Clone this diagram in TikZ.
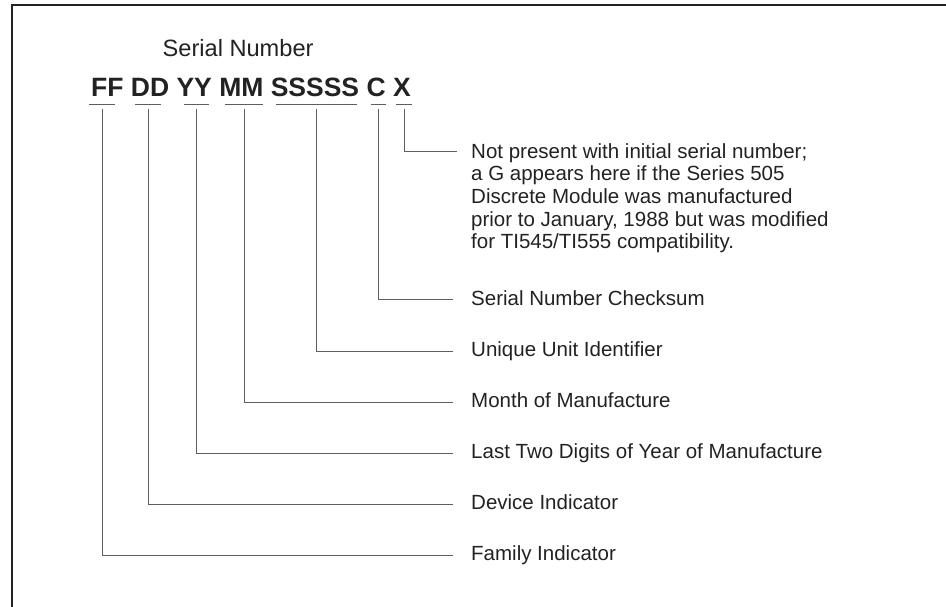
\documentclass[tikz,border=0pt]{standalone}
\usepackage{fontspec}
\setmainfont{Liberation Sans}
\definecolor{ink}{HTML}{222222}
\definecolor{wire}{HTML}{5E5E5E}
\begin{document}
\begin{tikzpicture}[x=1pt,y=-1pt,
  frame/.style={draw=ink,line width=2pt},
  conn/.style={draw=wire,line width=1pt},
  titletext/.style={inner sep=0pt,text=ink,font=\fontsize{23.6}{26}\selectfont},
  codetext/.style={inner sep=0pt,text=ink,font=\bfseries\fontsize{26.5}{30}\selectfont},
  lab/.style={inner sep=0pt,text=ink,font=\fontsize{20.5}{22.7}\selectfont,align=left}]
\useasboundingbox (0,0) rectangle (946,607);
\draw[frame] (946,5) -- (12,5) -- (12,607);
\node[titletext,anchor=base west] (title) at (162.5,56.7) {Serial Number};
\node[codetext,anchor=base west] (code) at (91,97) {FF DD YY MM SSSSS C X};
% underline bars
\foreach \a/\b in {89.3/115,135/160.7,184/209,225/262.7,276/356.7,370.7/386,396/411.7}
  \draw[conn] (\a,104.3) -- (\b,104.3);
% start points of the connectors
\coordinate (sx) at (404,109);
\coordinate (sc) at (378,109);
\coordinate (ss) at (316,109);
\coordinate (sm) at (244,109);
\coordinate (sy) at (196.5,109);
\coordinate (sd) at (148,109);
\coordinate (sf) at (102,109);
% end points
\coordinate (ex) at (457,152);
\coordinate (ec) at (453,299.5);
\coordinate (es) at (453,351);
\coordinate (em) at (453,402);
\coordinate (ey) at (453,453);
\coordinate (ed) at (453,504);
\coordinate (ef) at (453,555);
% labels
\node[lab,anchor=north west] (lx) at (471,143) {Not present with initial serial number;\\a G appears here if the Series 505\\Discrete Module was manufactured\\prior to January, 1988 but was modified\\for TI545/TI555 compatibility.};
\node[lab,anchor=base west] (lc) at (471,305) {Serial Number Checksum};
\node[lab,anchor=base west] (ls) at (471,356.5) {Unique Unit Identifier};
\node[lab,anchor=base west] (lm) at (471,407.5) {Month of Manufacture};
\node[lab,anchor=base west] (ly) at (471,458.5) {Last Two Digits of Year of Manufacture};
\node[lab,anchor=base west] (ld) at (471,509.5) {Device Indicator};
\node[lab,anchor=base west] (lf) at (471,560.5) {Family Indicator};
% connectors
\draw[conn] (sx) |- (ex);
\draw[conn] (sc) |- (ec);
\draw[conn] (ss) |- (es);
\draw[conn] (sm) |- (em);
\draw[conn] (sy) |- (ey);
\draw[conn] (sd) |- (ed);
\draw[conn] (sf) |- (ef);
\end{tikzpicture}
\end{document}
